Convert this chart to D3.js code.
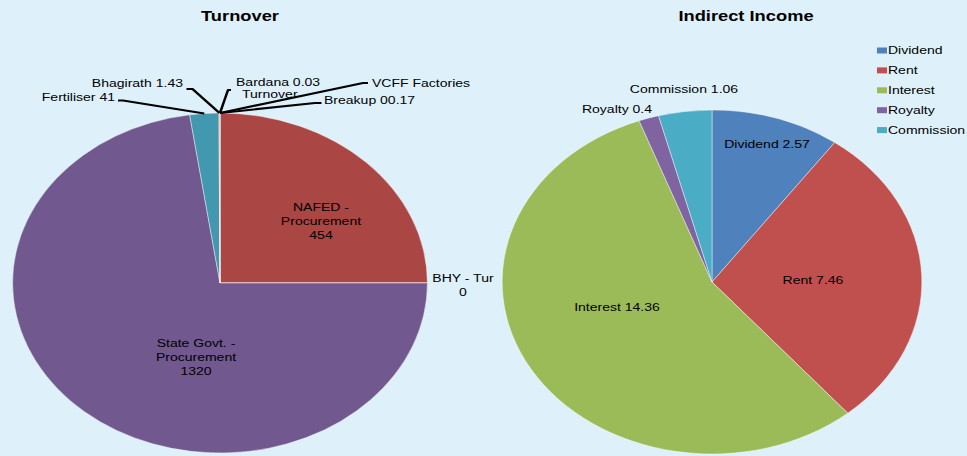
<!DOCTYPE html>
<html><head><meta charset="utf-8">
<script src="https://cdn.jsdelivr.net/npm/d3@7"></script>
<style>
html,body{margin:0;padding:0;background:#DEF1FA;}
svg{display:block;}
text{font-family:"Liberation Sans",Arial,sans-serif;fill:#000;}
</style></head>
<body><svg id="c" width="967" height="456"></svg>
<script>
// ---- data ----
const turnoverNames  = ["VCFF Factories Breakup","NAFED - Procurement","BHY - Tur","State Govt. - Procurement","Fertiliser","Bhagirath","Bardana Turnover"];
const turnoverValues = [0.17, 454, 0, 1320, 41, 1.43, 0.03];
const turnoverColors = ["#4572A7","#AA4643","#89A54E","#71588F","#4198AF","#DB843D","#93A9CF"];
const turnoverValueText = ["00.17","454","0","1320","41","1.43","0.03"];

const incomeNames  = ["Dividend","Rent","Interest","Royalty","Commission"];
const incomeValues = [2.57, 7.46, 14.36, 0.4, 1.06];
const incomeColors = ["#4F81BD","#C0504D","#9BBB59","#8064A2","#4BACC6"];

const titles = ["Turnover","Indirect Income"];

// ---- layout ----
const SX = 1.22;            // horizontal stretch of the original picture
const ix = x => x / SX;
const W = 967, H = 456;
const svg = d3.select("#c");
svg.append("rect").attr("width",W).attr("height",H).attr("fill","#DEF1FA");
const g = svg.append("g").attr("transform",`scale(${SX},1)`);

const FS = 11.5;

function drawPie(names, values, colors, cx, cy, r){
  const pie = d3.pie().sort(null).value(d=>d.v).startAngle(0).endAngle(2*Math.PI);
  const arcs = pie(values.map((v,i)=>({v, name:names[i], color:colors[i], i})));
  const arc = d3.arc().innerRadius(0).outerRadius(r);
  const pg = g.append("g").attr("transform",`translate(${cx},${cy})`);
  pg.selectAll("path").data(arcs).join("path")
    .attr("d",arc).attr("fill",d=>d.data.color)
    .attr("stroke","#ffffff").attr("stroke-opacity",0.55).attr("stroke-width",0.7);
  return arcs;
}
function edgePoint(a, cx, cy, r){
  const m = (a.startAngle + a.endAngle)/2;
  return [cx + r*Math.sin(m), cy - r*Math.cos(m)];
}
function textBlock(lines, x, y, anchor, lh){
  const t = g.append("text").attr("x",ix(x)).attr("y",y)
    .attr("text-anchor",anchor).attr("font-size",FS);
  lines.forEach((l,k)=>{
    t.append("tspan").attr("x",ix(x)).attr("dy",k===0?0:lh).text(l);
  });
}

// titles
g.append("text").attr("x",ix(240)).attr("y",21).attr("text-anchor","middle")
  .attr("font-size",15).attr("font-weight","bold").text(titles[0]);
g.append("text").attr("x",ix(746)).attr("y",21).attr("text-anchor","middle")
  .attr("font-size",15).attr("font-weight","bold").text(titles[1]);

// ---- Turnover pie ----
const LCX = ix(220), LCY = 283, LR = 170;
const larcs = drawPie(turnoverNames, turnoverValues, turnoverColors, LCX, LCY, LR);

// inside labels
textBlock(["NAFED -","Procurement",turnoverValueText[1]], 321, 211, "middle", 14);
textBlock(["State Govt. -","Procurement",turnoverValueText[3]], 196, 347, "middle", 14);
textBlock(["BHY - Tur",turnoverValueText[2]], 463, 282, "middle", 14);

// leader labels (outer pixel coordinates)
const leaders = [
  {i:4, lines:[{t:turnoverNames[4]+" "+turnoverValueText[4], x:115, y:101}], anchor:"end",   pts:[[118,100.5],[123,100.5]]},
  {i:5, lines:[{t:turnoverNames[5]+" "+turnoverValueText[5], x:183, y:87.5}], anchor:"end",  pts:[[186.5,89],[192.5,89]]},
  {i:6, lines:[{t:"Bardana "+turnoverValueText[6], x:236, y:86.5},{t:"Turnover", x:242, y:98}], anchor:"start", pts:[[231,90],[228,90]]},
  {i:0, lines:[{t:"VCFF Factories", x:372, y:87}], anchor:"start", pts:[[368,83],[363,83]]},
  {i:0, lines:[{t:"Breakup "+turnoverValueText[0], x:324, y:104.5}], anchor:"start", pts:[[321.5,103],[315,103]]}
];
leaders.forEach(L=>{
  const e = edgePoint(larcs[L.i], LCX, LCY, LR);
  const pts = L.pts.map(p=>[ix(p[0]),p[1]]).concat([e]);
  g.append("path").attr("d",d3.line()(pts)).attr("fill","none")
    .attr("stroke","#000").attr("stroke-width",2.1).attr("stroke-linejoin","round");
  L.lines.forEach(l=>{
    g.append("text").attr("x",ix(l.x)).attr("y",l.y).attr("text-anchor",L.anchor)
      .attr("font-size",FS).text(l.t);
  });
});

// ---- Indirect Income pie ----
const RCX = ix(712), RCY = 282, RR = 172;
drawPie(incomeNames, incomeValues, incomeColors, RCX, RCY, RR);

const incomeLabelPos = [[767,148],[813,284],[617,311],[617,113],[684,93]];
incomeNames.forEach((n,i)=>{
  g.append("text").attr("x",ix(incomeLabelPos[i][0])).attr("y",incomeLabelPos[i][1])
    .attr("text-anchor","middle").attr("font-size",FS).text(n+" "+incomeValues[i]);
});

// legend
incomeNames.forEach((n,i)=>{
  const y = 54 + i*19.9;
  g.append("rect").attr("x",ix(877)).attr("y",y-6.5).attr("width",ix(10)).attr("height",6)
    .attr("fill",incomeColors[i]);
  g.append("text").attr("x",ix(888)).attr("y",y).attr("font-size",FS).text(n);
});
</script></body></html>
